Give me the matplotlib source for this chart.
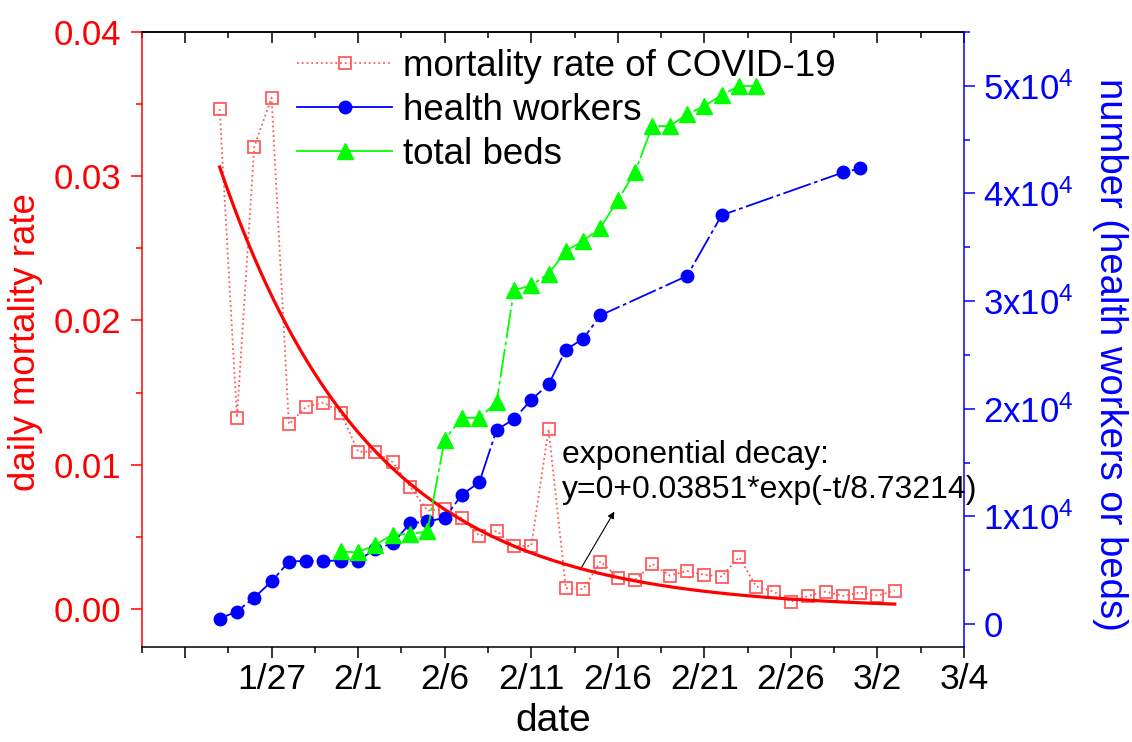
import matplotlib
matplotlib.use('agg')
import numpy as np
import matplotlib.pyplot as plt
from matplotlib.lines import Line2D
from matplotlib.ticker import MultipleLocator, FixedLocator, FuncFormatter

plt.rcParams['font.family'] = ['Liberation Sans', 'DejaVu Sans']
plt.rcParams['mathtext.fontset'] = 'custom'
plt.rcParams['mathtext.rm'] = 'Liberation Sans'
plt.rcParams['mathtext.it'] = 'Liberation Sans:italic'
plt.rcParams['mathtext.bf'] = 'Liberation Sans:bold'

# x = days since 1/22
mort_day = list(range(2, 42))
mort_rate = [0.03463, 0.01327, 0.03204, 0.03543, 0.01281, 0.01403, 0.01431, 0.01361,
             0.01091, 0.01091, 0.01018, 0.00849, 0.00683, 0.00693, 0.00630, 0.00508,
             0.00542, 0.00438, 0.00438, 0.01247, 0.00145, 0.00139, 0.00330, 0.00219,
             0.00203, 0.00314, 0.00233, 0.00265, 0.00238, 0.00226, 0.00360, 0.00157,
             0.00122, 0.00053, 0.00092, 0.00122, 0.00092, 0.00115, 0.00094, 0.00129]

worker_day = list(range(2, 25)) + [29, 31, 38, 39]
workers = [520, 1170, 2470, 3960, 5800, 5890, 5890, 5890, 5890, 6980, 7500, 9360,
           9540, 9860, 12030, 13170, 18050, 19030, 20840, 22260, 25490, 26510, 28680,
           32340, 37980, 41950, 42330]

bed_day = list(range(9, 34))
beds = [6750, 6660, 7380, 8310, 8370, 8610, 17140, 19160, 19160, 20610, 31000, 31470,
        32540, 34660, 35590, 36840, 39380, 42010, 46260, 46260, 47350, 48120, 49140,
        49980, 49980]

# exponential decay fit shown on the chart
fit_A = 0.03851
fit_tau = 8.73214
fit_start, fit_end = 2, 41

tick_pos = [0, 5, 10, 15, 20, 25, 30, 35, 40, 45]
tick_labels = ['', '1/27', '2/1', '2/6', '2/11', '2/16', '2/21', '2/26', '3/2', '3/4']

light_red = '#ff5a5a'
green = '#00ff00'

fig = plt.figure(figsize=(11.32, 7.42), dpi=100)
ax = fig.add_axes([0.1252, 0.1284, 0.7264, 0.8289])
ax2 = ax.twinx()

ax.plot(mort_day, mort_rate, ls=':', lw=1.3, color=light_red, marker='s', ms=8,
        mfc='none', mec=light_red, mew=1.3, zorder=3)
t_fit = np.linspace(fit_start, fit_end, 300)
ax.plot(t_fit, fit_A * np.exp(-t_fit / fit_tau), color='red', lw=2.3, zorder=4)

ax2.plot(worker_day, workers, color='blue', lw=1.3, dashes=[16, 2, 2, 2],
         marker='o', ms=9, mfc='blue', mec='blue')
ax2.plot(bed_day, beds, color=green, lw=1.3, dashes=[16, 2, 2, 2],
         marker='^', ms=11, mfc=green, mec=green)

ax.set_xlim(-2.5, 45)
ax.set_ylim(-0.0026, 0.04)
ax2.set_ylim(-2100, 55030)

# x axis
ax.xaxis.set_major_locator(FixedLocator(tick_pos))
ax.set_xticklabels(tick_labels)
ax.xaxis.set_minor_locator(MultipleLocator(5, offset=2.5))
ax.tick_params(axis='x', which='major', direction='out', length=8, width=1.1,
               labelsize=25.5, pad=4)
ax.tick_params(axis='x', which='minor', direction='out', length=4, width=1.1)
top = ax.secondary_xaxis('top')
top.xaxis.set_major_locator(FixedLocator(tick_pos))
top.xaxis.set_minor_locator(MultipleLocator(5, offset=2.5))
top.tick_params(which='major', direction='in', length=8, width=1.1, labeltop=False)
top.tick_params(which='minor', direction='in', length=4, width=1.1)
top.spines['top'].set_linewidth(1.1)
ax.set_xlabel('date', fontsize=28, labelpad=5)

# left y axis
ax.yaxis.set_major_locator(MultipleLocator(0.01))
ax.yaxis.set_minor_locator(MultipleLocator(0.005))
ax.yaxis.set_major_formatter(FuncFormatter(lambda v, p: f'{v:.2f}'))
ax.tick_params(axis='y', which='major', colors='red', length=8, width=1.1,
               labelsize=25, pad=7)
ax.tick_params(axis='y', which='minor', colors='red', length=4, width=1.1)
ax.set_ylabel('daily mortality rate', color='red', fontsize=26.5)
ax.yaxis.set_label_coords(-0.12, 0.495)

# right y axis
def num_fmt(v, p):
    k = int(round(v / 10000))
    return '0' if k == 0 else f'{k}x10$^{{4}}$'

ax2.yaxis.set_major_locator(MultipleLocator(10000))
ax2.yaxis.set_minor_locator(MultipleLocator(5000))
ax2.yaxis.set_major_formatter(FuncFormatter(num_fmt))
ax2.tick_params(axis='y', which='major', colors='blue', length=8, width=1.1,
                labelsize=25, pad=6)
ax2.tick_params(axis='y', which='minor', colors='blue', length=4, width=1.1)
ax2.set_ylabel('number (health workers or beds)', color='blue', fontsize=27.5,
               rotation=270, va='center')
ax2.yaxis.set_label_coords(1.178, 0.475)

for s in ['top', 'bottom']:
    ax.spines[s].set_linewidth(1.1)
ax.spines['left'].set_color('red')
ax.spines['left'].set_linewidth(1.1)
ax.spines['right'].set_visible(False)
for s in ['left', 'top', 'bottom']:
    ax2.spines[s].set_visible(False)
ax2.spines['right'].set_color('blue')
ax2.spines['right'].set_linewidth(1.1)

# legend
handles = [
    Line2D([], [], ls=':', lw=1.3, color=light_red, marker='s', ms=8, mfc='none',
           mec=light_red, mew=1.3),
    Line2D([], [], color='blue', lw=1.3, marker='o', ms=9),
    Line2D([], [], color=green, lw=1.3, marker='^', ms=11),
]
labels = ['mortality rate of COVID-19', 'health workers', 'total beds']
ax2.legend(handles, labels, loc='upper left', bbox_to_anchor=(0.1885, 0.972),
           frameon=False, fontsize=26.5, handlelength=2.6, handletextpad=0.3,
           labelspacing=0.25, borderpad=0, borderaxespad=0, numpoints=1)

# fit annotation
ax.text(21.78, 0.00948, 'exponential decay:\ny=0+0.03851*exp(-t/8.73214)',
        fontsize=23, ha='left', va='center', linespacing=1.2)
ax.annotate('', xy=(24.8, 0.00676), xytext=(22.82, 0.00272),
            arrowprops=dict(arrowstyle='-|>', color='black', lw=0.8,
                            mutation_scale=10, shrinkA=0, shrinkB=0))

fig.savefig('out.png', dpi=100)
